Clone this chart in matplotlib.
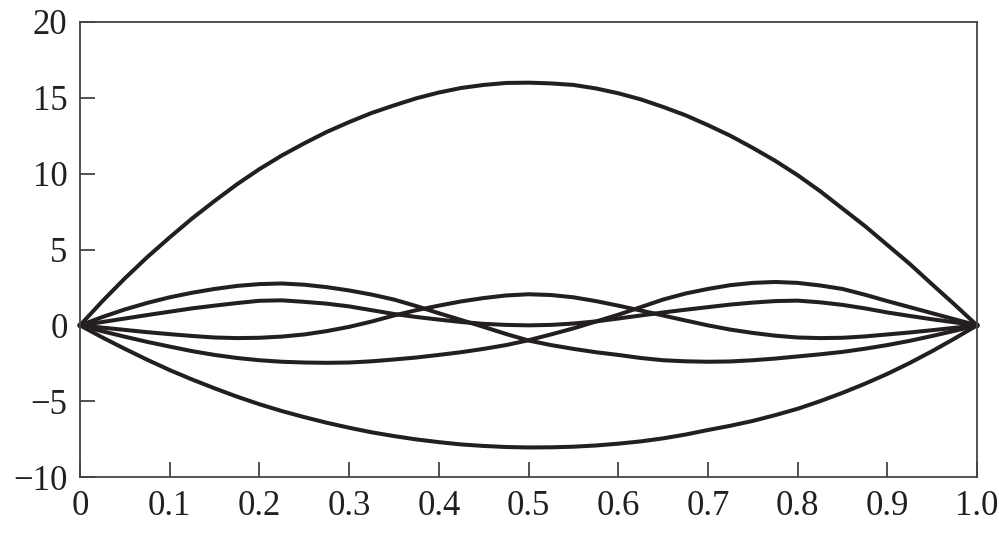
import matplotlib.pyplot as plt

x = [i / 40 for i in range(41)]

top_curve = [0, 1.6, 3.1, 4.5, 5.8, 7.05, 8.2, 9.3, 10.3, 11.2, 12.0,
             12.75, 13.4, 14.0, 14.5, 14.97, 15.35, 15.65, 15.85, 15.98, 16.0,
             15.95, 15.85, 15.62, 15.3, 14.9, 14.4, 13.85, 13.2, 12.5, 11.7,
             10.85, 9.9, 8.85, 7.7, 6.55, 5.3, 4.05, 2.7, 1.37, 0]
bottom_curve = [0, -0.8, -1.55, -2.27, -2.95, -3.57, -4.15, -4.7, -5.2, -5.65, -6.05,
                -6.42, -6.75, -7.05, -7.3, -7.52, -7.7, -7.85, -7.95, -8.02, -8.05,
                -8.04, -8.0, -7.92, -7.8, -7.65, -7.45, -7.2, -6.9, -6.62, -6.3,
                -5.92, -5.5, -5.0, -4.45, -3.85, -3.2, -2.48, -1.7, -0.87, 0]
peak_left = [0, 0.55, 1.05, 1.48, 1.85, 2.15, 2.4, 2.6, 2.72, 2.76, 2.68,
             2.52, 2.3, 2.03, 1.7, 1.27, 0.8, 0.35, -0.1, -0.57, -1.0,
             -1.3, -1.55, -1.77, -1.95, -2.15, -2.3, -2.37, -2.4, -2.38, -2.3,
             -2.19, -2.05, -1.91, -1.75, -1.54, -1.3, -1.02, -0.7, -0.36, 0]
peak_right = [0, -0.39, -0.75, -1.09, -1.4, -1.7, -1.95, -2.15, -2.3, -2.4, -2.45,
              -2.47, -2.45, -2.37, -2.25, -2.12, -1.95, -1.77, -1.55, -1.3, -0.98,
              -0.6, -0.2, 0.25, 0.7, 1.2, 1.7, 2.1, 2.4, 2.65, 2.8,
              2.86, 2.8, 2.63, 2.4, 2.02, 1.6, 1.2, 0.8, 0.4, 0]
two_humps = [0, 0.22, 0.45, 0.68, 0.9, 1.12, 1.3, 1.47, 1.62, 1.65, 1.55,
             1.43, 1.25, 1.0, 0.75, 0.55, 0.38, 0.22, 0.1, 0.03, 0.0,
             0.03, 0.12, 0.26, 0.45, 0.65, 0.85, 1.03, 1.2, 1.37, 1.5,
             1.6, 1.63, 1.52, 1.35, 1.12, 0.85, 0.62, 0.4, 0.2, 0]
mid_peak = [0, -0.15, -0.3, -0.45, -0.58, -0.7, -0.8, -0.84, -0.82, -0.74, -0.6,
            -0.38, -0.1, 0.25, 0.65, 1.0, 1.3, 1.58, 1.8, 1.97, 2.05,
            2.0, 1.85, 1.6, 1.3, 0.98, 0.65, 0.32, 0.0, -0.28, -0.5,
            -0.68, -0.8, -0.84, -0.82, -0.73, -0.6, -0.47, -0.32, -0.16, 0]

xticks = [0, 0.1, 0.2, 0.3, 0.4, 0.5, 0.6, 0.7, 0.8, 0.9, 1.0]
xticklabels = ['0', '0.1', '0.2', '0.3', '0.4', '0.5', '0.6', '0.7', '0.8', '0.9', '1.0']
yticks = [-10, -5, 0, 5, 10, 15, 20]
yticklabels = ['\u221210', '\u22125', '0', '5', '10', '15', '20']

plt.rcParams['font.family'] = ['Liberation Serif', 'DejaVu Serif']

fig = plt.figure(figsize=(9.99, 5.36), dpi=100)
ax = fig.add_axes([0.0801, 0.110, 0.8979, 0.849])

line_color = '#231f20'
for ys in [top_curve, bottom_curve, peak_left, peak_right, two_humps, mid_peak]:
    ax.plot(x, ys, color=line_color, lw=2.9, solid_joinstyle='round', clip_on=False)

ax.set_xlim(0, 1.0)
ax.set_ylim(-10, 20)
ax.set_xticks(xticks)
ax.set_xticklabels(xticklabels)
ax.set_yticks(yticks)
ax.set_yticklabels(yticklabels)
ax.tick_params(direction='in', length=11, width=1.2, colors='#333333',
               labelcolor='#231f20', labelsize=25, pad=9)

for sp in ax.spines.values():
    sp.set_linewidth(1.3)
    sp.set_color('#444444')

fig.savefig('out.png', dpi=100)
